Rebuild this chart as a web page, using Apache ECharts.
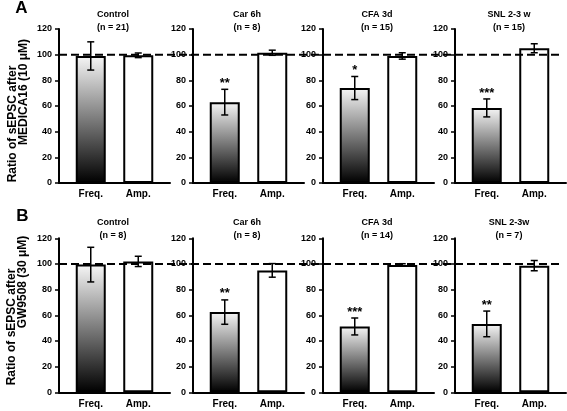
<!DOCTYPE html>
<html><head><meta charset="utf-8">
<script src="https://cdn.jsdelivr.net/npm/echarts@6/dist/echarts.min.js"></script>
<style>html,body{margin:0;padding:0;background:#fff}#c{width:567px;height:411px}</style>
</head><body><div id="c"></div>
<script>
// ---- data ----
const categories = ['Freq.', 'Amp.'];
const rowLetters = ['A', 'B'];
const yTitlesA = ['Ratio of sEPSC after', 'MEDICA16 (10 μM)'];
const yTitlesB = ['Ratio of sEPSC after', 'GW9508 (30 μM)'];
const panelTitlesA = ['Control\n(n = 21)', 'Car 6h\n(n = 8)', 'CFA 3d\n(n = 15)', 'SNL 2-3 w\n(n = 15)'];
const panelTitlesB = ['Control\n(n = 8)', 'Car 6h\n(n = 8)', 'CFA 3d\n(n = 14)', 'SNL 2-3w\n(n = 7)'];
const freqA = [99, 63, 74, 58.5];
const freqErrA = [11, 10, 9, 7];
const ampA = [99.5, 101.5, 99, 105];
const ampErrA = [1.8, 2, 2.5, 3.5];
const starsA = ['', '**', '*', '***'];
const freqB = [99.5, 62.5, 51.3, 53.3];
const freqErrB = [13.5, 9.5, 6.6, 10];
const ampB = [102, 95, 99.2, 98.7];
const ampErrB = [4, 5.3, 1, 4];
const starsB = ['', '**', '***', '**'];
const yMin = 0, yMax = 120, yInterval = 20;
const refLevel = 100;

// ---- layout ----
const FONT = '"Liberation Sans", Arial, sans-serif';
const panelX = [59, 193, 323, 455];
const rowTop = [29, 238.3];
const plotH = 154;
const wideW = 111;
const rows = [
  {titles: panelTitlesA, freq: freqA, freqErr: freqErrA, amp: ampA, ampErr: ampErrA, stars: starsA, yt: yTitlesA,
   ytPos: [[13, 124], [24, 92]], letterPos: [21.5, 8], titleTop: 8.5, labelMargin: 6},
  {titles: panelTitlesB, freq: freqB, freqErr: freqErrB, amp: ampB, ampErr: ampErrB, stars: starsB, yt: yTitlesB,
   ytPos: [[12, 327], [23, 282]], letterPos: [22.5, 216], titleTop: 216, labelMargin: 7}
];

const grid = [], xAxis = [], yAxis = [], series = [], graphic = [];
const gradient = new echarts.graphic.LinearGradient(0, 0, 0, 1, [
  {offset: 0, color: '#f6f6f6'}, {offset: 1, color: '#000000'}
]);

rows.forEach((row, r) => {
  const top = rowTop[r];
  // row-wide reference line grid
  let gi = grid.length;
  grid.push({left: panelX[0], top: top, width: 501, height: plotH});
  xAxis.push({type: 'value', gridIndex: gi, min: 0, max: 1, show: false});
  yAxis.push({type: 'value', gridIndex: gi, min: yMin, max: yMax, show: false});
  series.push({type: 'line', xAxisIndex: gi, yAxisIndex: gi, z: 10, symbol: 'none', silent: true,
    data: [[0, refLevel], [1, refLevel]],
    lineStyle: {color: '#000', width: 2, type: [8, 4]}});

  for (let p = 0; p < 4; p++) {
    const x0 = panelX[p];
    // wide grid: axes lines
    gi = grid.length;
    grid.push({left: x0, top: top, width: wideW, height: plotH});
    xAxis.push({type: 'value', gridIndex: gi, min: 0, max: 1,
      axisLine: {show: true, onZero: false, lineStyle: {color: '#000', width: 2}},
      axisTick: {show: false}, axisLabel: {show: false}, splitLine: {show: false}});
    yAxis.push({type: 'value', gridIndex: gi, min: yMin, max: yMax, interval: yInterval,
      axisLine: {show: true, lineStyle: {color: '#000', width: 2}},
      axisTick: {show: true, length: 4, lineStyle: {color: '#000', width: 1.5}},
      axisLabel: {color: '#000', fontWeight: 'bold', fontSize: 9, fontFamily: FONT, margin: 7},
      splitLine: {show: false}});
    // narrow grid: bars
    gi = grid.length;
    grid.push({left: x0 + 8, top: top, width: 95, height: plotH});
    xAxis.push({type: 'category', gridIndex: gi, data: categories,
      axisLine: {show: false}, axisTick: {show: false},
      axisLabel: {color: '#000', fontWeight: 'bold', fontSize: 10, fontFamily: FONT, margin: row.labelMargin}});
    yAxis.push({type: 'value', gridIndex: gi, min: yMin, max: yMax, show: false});
    series.push({type: 'bar', xAxisIndex: gi, yAxisIndex: gi, barWidth: 30, z: 2, silent: true,
      itemStyle: {borderColor: '#000', borderWidth: 2},
      data: [{value: row.freq[p], itemStyle: {color: gradient}},
             {value: row.amp[p], itemStyle: {color: '#fff'}}]});
    const star = row.stars[p];
    series.push({type: 'custom', xAxisIndex: gi, yAxisIndex: gi, z: 5, silent: true,
      data: [[0, row.freq[p], row.freqErr[p]], [1, row.amp[p], row.ampErr[p]]],
      renderItem: function (params, api) {
        const cx = api.value(0), v = api.value(1), e = api.value(2);
        const t = api.coord([cx, v + e]);
        const b = api.coord([cx, v - e]);
        const hw = 3.5;
        const st = {stroke: '#000', lineWidth: 1.5};
        const children = [
          {type: 'line', shape: {x1: t[0], y1: t[1], x2: b[0], y2: b[1]}, style: st},
          {type: 'line', shape: {x1: t[0] - hw, y1: t[1], x2: t[0] + hw, y2: t[1]}, style: st},
          {type: 'line', shape: {x1: b[0] - hw, y1: b[1], x2: b[0] + hw, y2: b[1]}, style: st}
        ];
        if (params.dataIndex === 0 && star) {
          children.push({type: 'text', style: {text: star, x: t[0], y: t[1] - 6,
            align: 'center', verticalAlign: 'middle', textAlign: 'center', textVerticalAlign: 'middle',
            font: 'bold 13px ' + FONT, fill: '#000'}});
        }
        return {type: 'group', children: children};
      }});
    // panel title
    graphic.push({type: 'text', x: x0 + 54, y: row.titleTop, silent: true,
      style: {text: row.titles[p], align: 'center', verticalAlign: 'top', textAlign: 'center', textVerticalAlign: 'top',
        font: 'bold 9px ' + FONT, lineHeight: 13, fill: '#000'}});
  }
  // row letter
  graphic.push({type: 'text', x: row.letterPos[0], y: row.letterPos[1], silent: true,
    style: {text: rowLetters[r], align: 'center', verticalAlign: 'middle', textAlign: 'center', textVerticalAlign: 'middle',
      font: 'bold 17px ' + FONT, fill: '#000'}});
  // y titles
  row.yt.forEach((t, i) => {
    graphic.push({type: 'text', x: row.ytPos[i][0], y: row.ytPos[i][1], rotation: Math.PI / 2, silent: true,
      style: {text: t, align: 'center', verticalAlign: 'middle', textAlign: 'center', textVerticalAlign: 'middle',
        font: 'bold 12px ' + FONT, fill: '#000'}});
  });
});

const chart = echarts.init(document.getElementById('c'), null, {renderer: 'canvas'});
chart.setOption({animation: false, backgroundColor: '#fff', grid, xAxis, yAxis, series, graphic});
</script>
</body></html>
